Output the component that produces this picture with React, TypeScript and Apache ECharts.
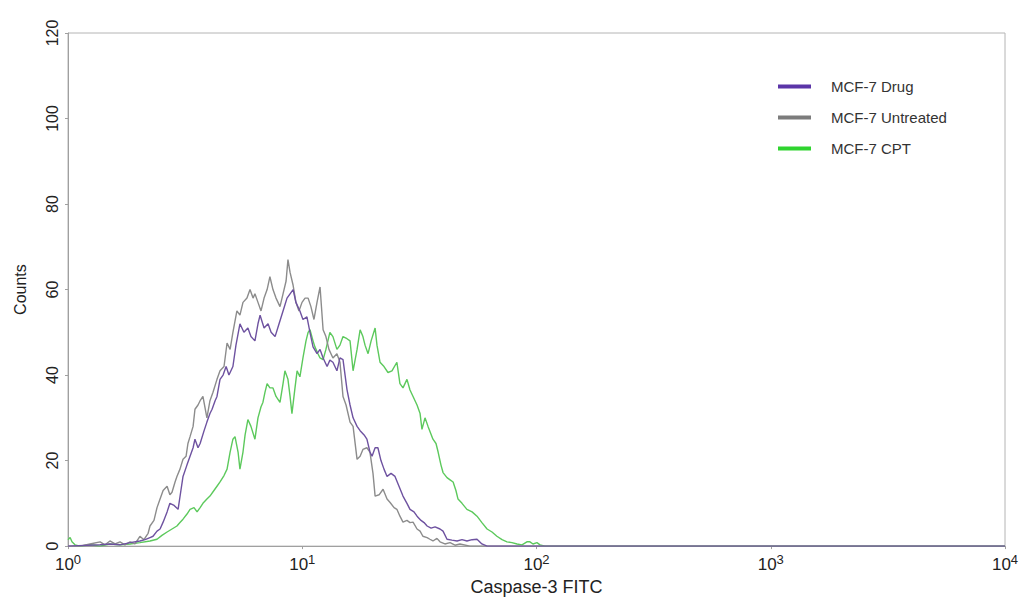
import React, { useEffect, useRef } from "react";
import * as echarts from "echarts";

// x = log10(Caspase-3 FITC intensity), y = counts
const drugData: number[][] = [
  [0, 0], [0.137, 0.3], [0.179, 0.5], [0.222, 0.3], [0.265, 0.8], [0.307, 1.2], [0.329, 1.5], [0.35, 2],
  [0.363, 2.3], [0.38, 3.5], [0.393, 4], [0.406, 5.6], [0.423, 8], [0.435, 10], [0.453, 9.5], [0.47, 8.6],
  [0.482, 13], [0.491, 16.3], [0.508, 19], [0.521, 21], [0.534, 23], [0.542, 25], [0.555, 23], [0.564, 24],
  [0.581, 27], [0.593, 29], [0.606, 31], [0.615, 32], [0.628, 34], [0.636, 35], [0.649, 39], [0.662, 40],
  [0.675, 42], [0.687, 40], [0.704, 42], [0.717, 47], [0.734, 52], [0.751, 50], [0.768, 51], [0.781, 49],
  [0.798, 48], [0.811, 52], [0.82, 54], [0.837, 51], [0.854, 52], [0.867, 50], [0.884, 49], [0.901, 52],
  [0.918, 55], [0.935, 58], [0.948, 59], [0.961, 60], [0.973, 57], [0.99, 55], [1.003, 53], [1.02, 53.6],
  [1.033, 50], [1.046, 46.6], [1.063, 45], [1.076, 46], [1.089, 44], [1.106, 42], [1.118, 43.5], [1.131, 43],
  [1.148, 41], [1.161, 44], [1.174, 43.6], [1.191, 36.6], [1.204, 33], [1.217, 30], [1.234, 28], [1.247, 27],
  [1.264, 26], [1.276, 25], [1.289, 22], [1.298, 21], [1.311, 23], [1.323, 23], [1.336, 20], [1.349, 18],
  [1.362, 16.3], [1.379, 17], [1.396, 16.3], [1.413, 14], [1.43, 11.7], [1.447, 10], [1.46, 8.6], [1.477, 8],
  [1.49, 7], [1.507, 6], [1.52, 5.5], [1.533, 4.7], [1.55, 4.2], [1.567, 4.5], [1.588, 4], [1.601, 3.5],
  [1.618, 1.6], [1.639, 1.4], [1.661, 1.2], [1.682, 1.5], [1.703, 1.2], [1.725, 1.5], [1.746, 1.6], [1.767, 0.5],
  [1.789, 0], [4, 0],
];

const untreatedData: number[][] = [
  [0, 0], [0.051, 0], [0.094, 0.5], [0.137, 1], [0.158, 0.3], [0.179, 1.2], [0.201, 0.5], [0.222, 1],
  [0.243, 0.3], [0.265, 1], [0.286, 0.5], [0.307, 2.3], [0.324, 1.5], [0.342, 3], [0.35, 4.7], [0.367, 6],
  [0.38, 9], [0.393, 11], [0.406, 13], [0.423, 14], [0.435, 12], [0.444, 12.6], [0.457, 15], [0.465, 16.3],
  [0.478, 18], [0.491, 20.3], [0.504, 21], [0.512, 24], [0.521, 25.6], [0.534, 28], [0.542, 32], [0.555, 33],
  [0.564, 34], [0.576, 35], [0.593, 30], [0.606, 34], [0.619, 36], [0.636, 39], [0.649, 41], [0.666, 42],
  [0.679, 47.5], [0.692, 46], [0.704, 50], [0.721, 55], [0.734, 54], [0.747, 57], [0.764, 58], [0.777, 60],
  [0.79, 58], [0.798, 59], [0.811, 57], [0.824, 55], [0.837, 58], [0.85, 60], [0.862, 63], [0.875, 60],
  [0.888, 58], [0.905, 56], [0.918, 59], [0.931, 62], [0.939, 67], [0.948, 64], [0.961, 61], [0.973, 57],
  [0.986, 55], [0.999, 57], [1.012, 58], [1.025, 58], [1.037, 56], [1.05, 53], [1.063, 57], [1.076, 60.6],
  [1.089, 50.6], [1.101, 49], [1.114, 46], [1.131, 44], [1.148, 45], [1.161, 43], [1.174, 35], [1.187, 33],
  [1.204, 29], [1.217, 28], [1.234, 20.3], [1.247, 21], [1.259, 22.6], [1.276, 23], [1.289, 22], [1.302, 17],
  [1.311, 11.7], [1.328, 12], [1.345, 13.3], [1.362, 11], [1.375, 10.2], [1.392, 9], [1.404, 8.6], [1.417, 7],
  [1.43, 5.6], [1.447, 6], [1.46, 5.5], [1.473, 5.6], [1.49, 4], [1.503, 3.5], [1.515, 2.3], [1.533, 2],
  [1.545, 1.6], [1.558, 1.2], [1.575, 1.8], [1.588, 1], [1.609, 0.5], [1.631, 0.8], [1.652, 0.2], [1.673, 0.5],
  [1.716, 0], [4, 0],
];

const cptData: number[][] = [
  [0, 1.5], [0.009, 2], [0.017, 1], [0.03, 0.3], [0.051, 0], [0.094, 0.3], [0.137, 0], [0.179, 0.5],
  [0.222, 0.3], [0.265, 0.5], [0.307, 0.8], [0.35, 1.2], [0.38, 1.6], [0.401, 2.5], [0.423, 3.3], [0.444, 4],
  [0.465, 4.7], [0.478, 5.5], [0.491, 6.3], [0.508, 7.5], [0.521, 8.6], [0.538, 9], [0.551, 8], [0.564, 9],
  [0.576, 10], [0.593, 11], [0.606, 11.7], [0.623, 13], [0.636, 14], [0.649, 15], [0.666, 16.5], [0.679, 18],
  [0.692, 22], [0.704, 25], [0.713, 25.6], [0.726, 22], [0.734, 18], [0.747, 22], [0.756, 26], [0.768, 29.6],
  [0.781, 28], [0.798, 25], [0.811, 30], [0.824, 32.6], [0.832, 33.6], [0.841, 36], [0.85, 38], [0.862, 37],
  [0.875, 37], [0.888, 35], [0.905, 33.6], [0.918, 38], [0.926, 41], [0.939, 39], [0.948, 35], [0.956, 31],
  [0.969, 37], [0.978, 41], [0.99, 39.6], [1.003, 44], [1.016, 48], [1.025, 50], [1.033, 50.6], [1.046, 48],
  [1.054, 46.6], [1.067, 45], [1.076, 44], [1.089, 43.6], [1.101, 46], [1.118, 50], [1.131, 49], [1.148, 46],
  [1.161, 47], [1.174, 49], [1.191, 48.5], [1.204, 48], [1.217, 41], [1.234, 46], [1.247, 50.6], [1.259, 49],
  [1.268, 47], [1.281, 45], [1.294, 48], [1.311, 51], [1.319, 47], [1.332, 43], [1.349, 42], [1.366, 40.6],
  [1.383, 41], [1.404, 43], [1.417, 38], [1.43, 37], [1.447, 39], [1.46, 36.5], [1.473, 35], [1.49, 33],
  [1.503, 31], [1.511, 27.3], [1.524, 30], [1.537, 28], [1.558, 25], [1.571, 24], [1.58, 22], [1.592, 19],
  [1.601, 17.2], [1.618, 16], [1.631, 15.5], [1.644, 15], [1.656, 13], [1.665, 11], [1.682, 10], [1.703, 8.6],
  [1.725, 8], [1.746, 7], [1.767, 5.5], [1.789, 4], [1.81, 3.3], [1.831, 2.3], [1.853, 1.5], [1.874, 1],
  [1.895, 0.8], [1.917, 0.5], [1.938, 0.3], [1.959, 1], [1.972, 1], [1.985, 0.5], [2.002, 0.8], [2.015, 0.3],
  [2.036, 0], [4, 0],
];

const seriesNames = ["MCF-7 Drug", "MCF-7 Untreated", "MCF-7 CPT"];
const lineColors = ["#6e52a0", "#8c8c8c", "#5cc95c"];
const legendColors = ["#5b35a8", "#7c7c7c", "#2fd42f"];
const yTicks = { min: 0, max: 120, interval: 20 };
const xDecades = { min: 0, max: 4, interval: 1 };

export default function App() {
  const ref = useRef<HTMLDivElement>(null);
  useEffect(() => {
    if (!ref.current) return;
    const chart = echarts.init(ref.current, undefined, { renderer: "svg" });
    const datasets = [drugData, untreatedData, cptData];
    const zs = [4, 3, 2];
    const font = "Liberation Sans, Arial, sans-serif";
    chart.setOption({
      animation: false,
      backgroundColor: "#ffffff",
      grid: {
        left: 68,
        right: 27,
        top: 33,
        bottom: 54,
        show: true,
        borderColor: "#b4b4b4",
        borderWidth: 1,
      },
      legend: {
        orient: "vertical",
        left: 773,
        top: 74,
        itemWidth: 33,
        itemHeight: 4,
        itemGap: 16,
        icon: "rect",
        textStyle: {
          fontFamily: font,
          fontSize: 15,
          color: "#333",
          padding: [0, 0, 0, 15],
        },
        data: seriesNames.map((n, i) => ({ name: n, itemStyle: { color: legendColors[i] } })),
      },
      xAxis: {
        type: "value",
        min: xDecades.min,
        max: xDecades.max,
        interval: xDecades.interval,
        name: "Caspase-3 FITC",
        nameLocation: "middle",
        nameGap: 31,
        nameTextStyle: { fontFamily: font, fontSize: 18, color: "#222" },
        axisLine: { show: true, lineStyle: { color: "#a0a0a0" } },
        axisTick: { show: true, length: 3, inside: false, lineStyle: { color: "#a0a0a0" } },
        splitLine: { show: false },
        axisLabel: {
          margin: 7,
          formatter: (v: number) => `{b|10}{s|${v}}`,
          rich: {
            b: { fontFamily: font, fontSize: 17, color: "#222" },
            s: {
              fontFamily: font,
              fontSize: 13,
              color: "#222",
              verticalAlign: "top",
              padding: [0, 0, 10, 0],
            },
          },
        },
      },
      yAxis: {
        type: "value",
        min: yTicks.min,
        max: yTicks.max,
        interval: yTicks.interval,
        name: "Counts",
        nameLocation: "middle",
        nameGap: 40,
        nameTextStyle: { fontFamily: font, fontSize: 16, color: "#222" },
        axisLine: { show: true, lineStyle: { color: "#a0a0a0" } },
        axisTick: { show: true, length: 3, lineStyle: { color: "#a0a0a0" } },
        splitLine: { show: false },
        axisLabel: {
          rotate: 90,
          margin: 8,
          fontFamily: font,
          fontSize: 16,
          color: "#222",
        },
      },
      series: seriesNames.map((n, i) => ({
        name: n,
        type: "line",
        data: datasets[i],
        showSymbol: false,
        symbol: "none",
        z: zs[i],
        lineStyle: { color: lineColors[i], width: 1.4 },
        itemStyle: { color: lineColors[i] },
      })),
    });
    return () => chart.dispose();
  }, []);
  return <div ref={ref} style={{ width: 1032, height: 601, position: "absolute", left: 0, top: 0 }} />;
}
